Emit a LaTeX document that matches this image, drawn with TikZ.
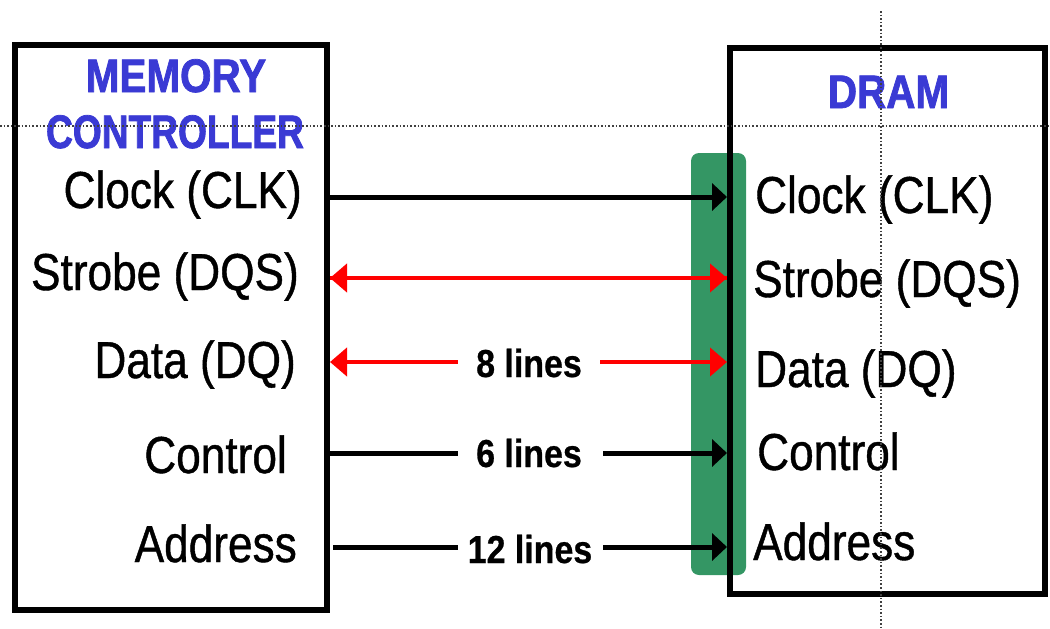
\documentclass[tikz,border=0pt]{standalone}
\usepackage{fontspec}
\usetikzlibrary{arrows.meta}
\newfontfamily\sigfont[FakeStretch=0.85,FakeBold=0.8]{Liberation Sans}
\newfontfamily\cntfont[FakeStretch=0.87,FakeBold=0.6]{Liberation Sans Bold}
\newfontfamily\ttlfont[FakeStretch=0.86,FakeBold=1.6]{Liberation Sans Bold}
\newfontfamily\ttlnarrow[FakeStretch=0.79,FakeBold=1.6]{Liberation Sans Bold}
\definecolor{ttlblue}{RGB}{58,58,212}
\definecolor{busgreen}{RGB}{52,150,100}
\definecolor{sigred}{RGB}{255,0,0}

\begin{document}
\begin{tikzpicture}[x=1pt,y=-1pt,
  blk/.style={draw=black, line width=6pt, inner sep=0pt},
  bus/.style={fill=busgreen, draw=none, rounded corners=8pt, inner sep=0pt},
  ttl/.style={font=\ttlfont\fontsize{47}{50}\selectfont, text=ttlblue, inner sep=0pt, anchor=base},
  ttlN/.style={ttl, font=\ttlnarrow\fontsize{47}{50}\selectfont},
  lbl/.style={font=\sigfont\fontsize{52}{56}\selectfont, inner sep=0pt},
  cnt/.style={font=\cntfont\fontsize{39}{42}\selectfont, inner sep=0pt, anchor=base},
  wire/.style={draw=black, line width=5pt},
  redwire/.style={draw=sigred, line width=4.5pt},
  tipK/.style={-{Triangle[length=15pt,width=27pt]}},
  tipR/.style={{Triangle[length=17pt,width=28pt]}-},
  tipRR/.style={-{Triangle[length=17pt,width=28pt]}},
  guide/.style={draw=black!75, line width=1.4pt, dash pattern=on 1.6pt off 2pt}]

\useasboundingbox (0,0) rectangle (1050,629);

% data bus strip behind the DRAM pins
\node[bus, minimum width=55pt, minimum height=422pt] (strip) at (718.5,364) {};

% the two blocks
\node[blk, minimum width=312pt, minimum height=565pt] (mc) at (171,327.5) {};
\node[blk, minimum width=315pt, minimum height=546pt] (dram) at (887.5,321) {};

% block titles
\node[ttl]  (mcT1) at (176,92) {MEMORY};
\node[ttlN] (mcT2) at (175,148) {CONTROLLER};
\node[ttl]  (dramT) at (888.5,108) {DRAM};

% signal rows
\coordinate (rClk) at (0,197);
\coordinate (rDqs) at (0,278);
\coordinate (rDq)  at (0,362);
\coordinate (rCtl) at (0,453);
\coordinate (rAdr) at (0,547);

% controller side labels
\node[lbl, anchor=base east] (lClk) at (302,208) {Clock (CLK)};
\node[lbl, anchor=base east] (lDqs) at (299,290) {Strobe (DQS)};
\node[lbl, anchor=base east] (lDq)  at (296,378) {Data (DQ)};
\node[lbl, anchor=base east] (lCtl) at (287,473) {Control};
\node[lbl, anchor=base east] (lAdr) at (297,562) {Address};

% DRAM side labels
\node[lbl, anchor=base west] (dClk) at (755,213) {Clock (CLK)};
\node[lbl, anchor=base west] (dDqs) at (753,297) {Strobe (DQS)};
\node[lbl, anchor=base west] (dDq)  at (755,387) {Data (DQ)};
\node[lbl, anchor=base west] (dCtl) at (757,470) {Control};
\node[lbl, anchor=base west] (dAdr) at (753,560) {Address};

% bus widths
\node[cnt] (nDq)  at (529,377) {8 lines};
\node[cnt] (nCtl) at (529,467) {6 lines};
\node[cnt] (nAdr) at (530,563) {12 lines};

% gaps left around the bus width labels
\coordinate (gDqA)  at (458,362);
\coordinate (gDqB)  at (600,362);
\coordinate (gCtlA) at (458,453);
\coordinate (gCtlB) at (603,453);
\coordinate (gAdrA) at (458,547);
\coordinate (gAdrB) at (603,547);

% connectors
\draw[wire, tipK] (mc.east |- rClk) -- (dram.west |- rClk);
\draw[redwire, tipR] (mc.east |- rDqs) -- (dram.west |- rDqs);
\draw[redwire, tipRR] (mc.east |- rDqs) -- (dram.west |- rDqs);
\draw[redwire, tipR] (mc.east |- rDq) -- (gDqA);
\draw[redwire, tipRR] (gDqB) -- (dram.west |- rDq);
\draw[wire] (mc.east |- rCtl) -- (gCtlA);
\draw[wire, tipK] (gCtlB) -- (dram.west |- rCtl);
\draw[wire] ([xshift=3pt]mc.east |- rAdr) -- (gAdrA);
\draw[wire, tipK] (gAdrB) -- (dram.west |- rAdr);

% alignment guides
\draw[guide] (0,126) -- (1050,126);
\draw[guide] (881,11) -- (881,629);
\end{tikzpicture}
\end{document}
